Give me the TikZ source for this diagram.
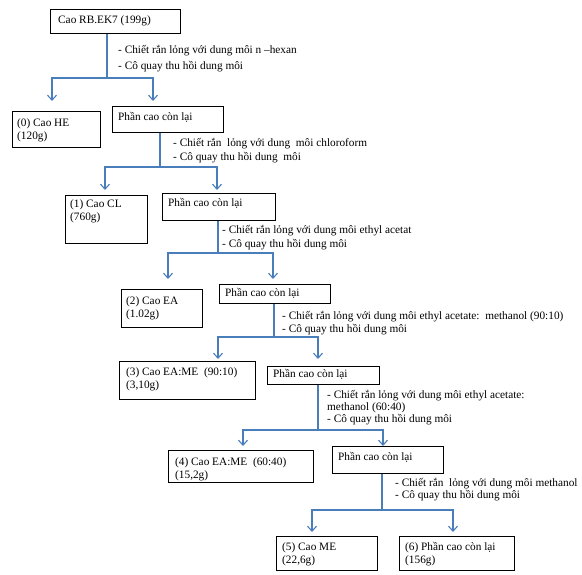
\documentclass[tikz,border=0pt]{standalone}
\usepackage{fontspec}
\setmainfont{Liberation Serif}
\usetikzlibrary{arrows.meta,calc}
\definecolor{linec}{RGB}{74,126,187}
\begin{document}
\begin{tikzpicture}[x=1pt,y=-1pt,
  box/.style={draw=black, line width=1.1pt, rectangle, anchor=north west, inner sep=0pt},
  txt/.style={anchor=north west, inner sep=0pt, align=left, font=\fontsize{11.3}{13.5}\selectfont},
  conn/.style={draw=linec, line width=1.1pt},
  arr/.style={conn, -{Straight Barb[length=5pt,width=9pt]}}]
\useasboundingbox[fill=white] (0,0) rectangle (582,575);

% boxes
\node[box, minimum width=130pt, minimum height=24pt] (top) at (50,9) {};
\node[box, minimum width=88pt, minimum height=36pt] (he) at (12,111) {};
\node[box, minimum width=111pt, minimum height=26pt] (r1) at (112,106) {};
\node[box, minimum width=82pt, minimum height=48pt] (cl) at (65,195) {};
\node[box, minimum width=113pt, minimum height=27pt] (r2) at (162,193) {};
\node[box, minimum width=81pt, minimum height=38pt] (ea) at (121,289) {};
\node[box, minimum width=111pt, minimum height=19pt] (r3) at (219,284) {};
\node[box, minimum width=136pt, minimum height=38pt] (eame1) at (119,361) {};
\node[box, minimum width=112pt, minimum height=18pt] (r4) at (267,366) {};
\node[box, minimum width=145pt, minimum height=32pt] (eame2) at (168,450) {};
\node[box, minimum width=111pt, minimum height=27pt] (r5) at (332,446) {};
\node[box, minimum width=101pt, minimum height=34pt] (me) at (276,536) {};
\node[box, minimum width=115pt, minimum height=34pt] (r6) at (399,536) {};

% box texts
\node[txt] (ttop) at ($(top.north west)+(8,6)$) {Cao RB.EK7 (199g)};
\node[txt] (the) at ($(he.north west)+(5,7)$) {(0) Cao HE\\(120g)};
\node[txt] (tr1) at ($(r1.north west)+(6,6)$) {Phần cao còn lại};
\node[txt] (tcl) at ($(cl.north west)+(5,4)$) {(1) Cao CL\\(760g)};
\node[txt] (tr2) at ($(r2.north west)+(6,5)$) {Phần cao còn lại};
\node[txt] (tea) at ($(ea.north west)+(5,7)$) {(2) Cao EA\\(1.02g)};
\node[txt] (tr3) at ($(r3.north west)+(6,4)$) {Phần cao còn lại};
\node[txt] (teame1) at ($(eame1.north west)+(7,6)$) {(3) Cao EA:ME\ \ (90:10)\\(3,10g)};
\node[txt] (tr4) at ($(r4.north west)+(6,3)$) {Phần cao còn lại};
\node[txt] (teame2) at ($(eame2.north west)+(7,7)$) {(4) Cao EA:ME\ \ (60:40)\\(15,2g)};
\node[txt] (tr5) at ($(r5.north west)+(6,6)$) {Phần cao còn lại};
\node[txt] (tme) at ($(me.north west)+(6,6)$) {(5) Cao ME\\(22,6g)};
\node[txt] (tr6) at ($(r6.north west)+(6,6)$) {(6) Phần cao còn lại\\(156g)};

% step texts
\node[txt, font=\fontsize{11.3}{16}\selectfont] (s1) at (118,45) {- Chiết rắn lỏng với dung môi n –hexan\\- Cô quay thu hồi dung môi};
\node[txt, font=\fontsize{11.3}{14}\selectfont] (s2) at (173,138) {- Chiết rắn\ \ lỏng với dung\ \ môi chloroform\\- Cô quay thu hồi dung\ \ môi};
\node[txt, font=\fontsize{11.3}{14}\selectfont] (s3) at (222,225) {- Chiết rắn lỏng với dung môi ethyl acetat\\- Cô quay thu hồi dung môi};
\node[txt, font=\fontsize{11.3}{13}\selectfont] (s4) at (282,311) {- Chiết rắn lỏng với dung môi ethyl acetate:\ \ methanol (90:10)\\- Cô quay thu hồi dung môi};
\node[txt, font=\fontsize{11.3}{12}\selectfont] (s5) at (327,390) {- Chiết rắn lỏng với dung môi ethyl acetate:\\methanol (60:40)\\- Cô quay thu hồi dung môi};
\node[txt, font=\fontsize{11.3}{12}\selectfont] (s6) at (395,478) {- Chiết rắn\ \ lỏng với dung môi methanol\\- Cô quay thu hồi dung môi};

% connectors
\coordinate (j1) at (107,78); \coordinate (a1l) at (52,101); \coordinate (a1r) at (153,101);
\draw[conn] (top.south -| j1) -- (j1);
\draw[arr] (j1) -| (a1l);
\draw[arr] (j1) -| (a1r);

\coordinate (j2) at (160,167); \coordinate (a2l) at (105,190); \coordinate (a2r) at (217,190);
\draw[conn] (r1.south -| j2) -- (j2);
\draw[arr] (j2) -| (a2l);
\draw[arr] (j2) -| (a2r);

\coordinate (j3) at (218,253); \coordinate (a3l) at (168,279); \coordinate (a3r) at (273,279);
\draw[conn] (r2.south -| j3) -- (j3);
\draw[arr] (j3) -| (a3l);
\draw[arr] (j3) -| (a3r);

\coordinate (j4) at (274,337); \coordinate (a4l) at (218,359); \coordinate (a4r) at (318,359);
\draw[conn] (r3.south -| j4) -- (j4);
\draw[arr] (j4) -| (a4l);
\draw[arr] (j4) -| (a4r);

\coordinate (j5) at (318,430); \coordinate (a5l) at (243,446); \coordinate (a5r) at (383,446);
\draw[conn] (r4.south -| j5) -- (j5);
\draw[arr] (j5) -| (a5l);
\draw[arr] (j5) -| (a5r);

\coordinate (j6) at (382,510); \coordinate (a6l) at (312,532); \coordinate (a6r) at (453,532);
\draw[conn] (r5.south -| j6) -- (j6);
\draw[arr] (j6) -| (a6l);
\draw[arr] (j6) -| (a6r);
\end{tikzpicture}
\end{document}
